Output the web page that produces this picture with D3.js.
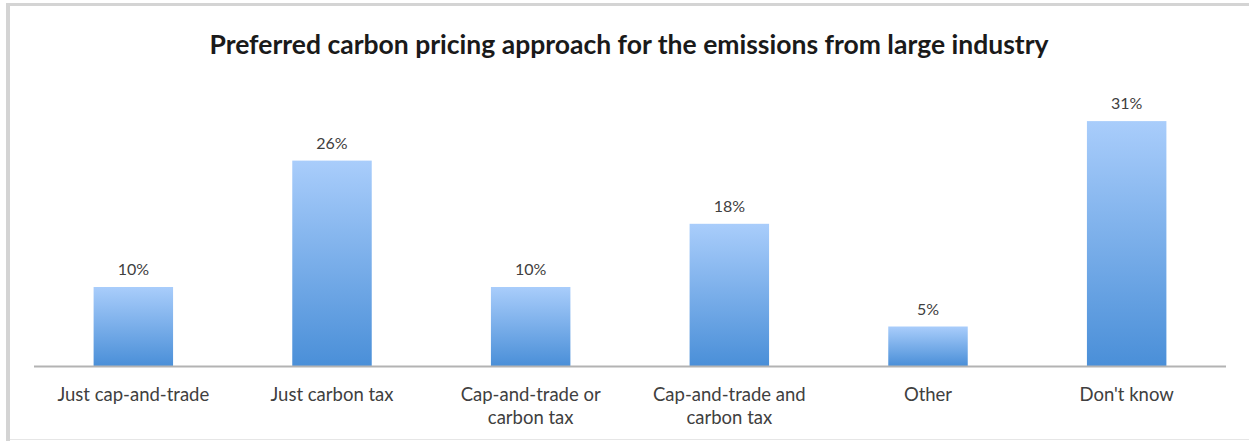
<!DOCTYPE html>
<html>
<head>
<meta charset="utf-8">
<script src="https://cdn.jsdelivr.net/npm/d3@7"></script>
<style>
  body { margin: 0; background: #fff; }
  svg { display: block; }
</style>
</head>
<body>
<div id="chart"></div>
<script>
// data
const categories = ["Just cap-and-trade", "Just carbon tax", "Cap-and-trade or carbon tax",
                    "Cap-and-trade and carbon tax", "Other", "Don't know"];
const labelLines = [["Just cap-and-trade"], ["Just carbon tax"], ["Cap-and-trade or", "carbon tax"],
                    ["Cap-and-trade and", "carbon tax"], ["Other"], ["Don't know"]];
const shares = [10, 26, 10, 18, 5, 31];
const title = "Preferred carbon pricing approach for the emissions from large industry";

function init() {
  const width = 1249, height = 441;
  const left = 34, right = 1226, baseY = 366;

  const svg = d3.select("#chart").append("svg")
    .attr("width", width).attr("height", height);

  // frame around the chart area
  svg.append("line").attr("x1", 8).attr("x2", 8).attr("y1", 3).attr("y2", 441)
    .attr("stroke", "#d4d4d4").attr("stroke-width", 4);
  svg.append("line").attr("x1", 6).attr("x2", width).attr("y1", 4.5).attr("y2", 4.5)
    .attr("stroke", "#d4d4d4").attr("stroke-width", 3);
  svg.append("line").attr("x1", 10).attr("x2", width).attr("y1", 439.5).attr("y2", 439.5)
    .attr("stroke", "#e6e6e6").attr("stroke-width", 1);

  const defs = svg.append("defs");
  const grad = defs.append("linearGradient").attr("id", "barGrad")
    .attr("x1", 0).attr("y1", 0).attr("x2", 0).attr("y2", 1);
  grad.append("stop").attr("offset", "0%").attr("stop-color", "#a9cdfb");
  grad.append("stop").attr("offset", "100%").attr("stop-color", "#4a8fd8");

  const x = d3.scaleBand().domain(categories).range([left, right]).paddingInner(0.6).paddingOuter(0.3);
  const y = d3.scaleLinear().domain([0, 35]).range([baseY, baseY - 35 * 7.9]);

  svg.append("text")
    .attr("x", 629).attr("y", 54)
    .attr("text-anchor", "middle")
    .style("font-family", "Lato, 'Open Sans', sans-serif")
    .style("font-weight", "bold")
    .style("font-size", "26.5px")
    .attr("fill", "#1a1a1a")
    .text(title);

  svg.selectAll("rect.bar")
    .data(shares)
    .join("rect")
    .attr("class", "bar")
    .attr("x", (d, i) => x(categories[i]))
    .attr("width", x.bandwidth())
    .attr("y", d => y(d))
    .attr("height", d => baseY - y(d))
    .attr("fill", "url(#barGrad)");

  svg.selectAll("text.value")
    .data(shares)
    .join("text")
    .attr("class", "value")
    .attr("x", (d, i) => x(categories[i]) + x.bandwidth() / 2)
    .attr("y", d => y(d) - 12)
    .attr("text-anchor", "middle")
    .style("font-family", "Lato, 'Open Sans', sans-serif")
    .style("font-size", "16px")
    .attr("fill", "#404040")
    .text(d => d + "%");

  // category axis
  svg.append("line").attr("x1", left).attr("x2", right).attr("y1", baseY + 0.5).attr("y2", baseY + 0.5)
    .attr("stroke", "#b3b3b3").attr("stroke-width", 2);

  const lab = svg.selectAll("text.cat")
    .data(labelLines)
    .join("text")
    .attr("class", "cat")
    .attr("text-anchor", "middle")
    .style("font-family", "Lato, 'Open Sans', sans-serif")
    .style("font-size", "18.5px")
    .attr("fill", "#404040");
  lab.selectAll("tspan")
    .data((d, i) => d.map(t => ({t, i})))
    .join("tspan")
    .attr("x", d => x(categories[d.i]) + x.bandwidth() / 2)
    .attr("y", (d, j) => 401 + j * 23)
    .text(d => d.t);
}

window.onload = init;
</script>
</body>
</html>
